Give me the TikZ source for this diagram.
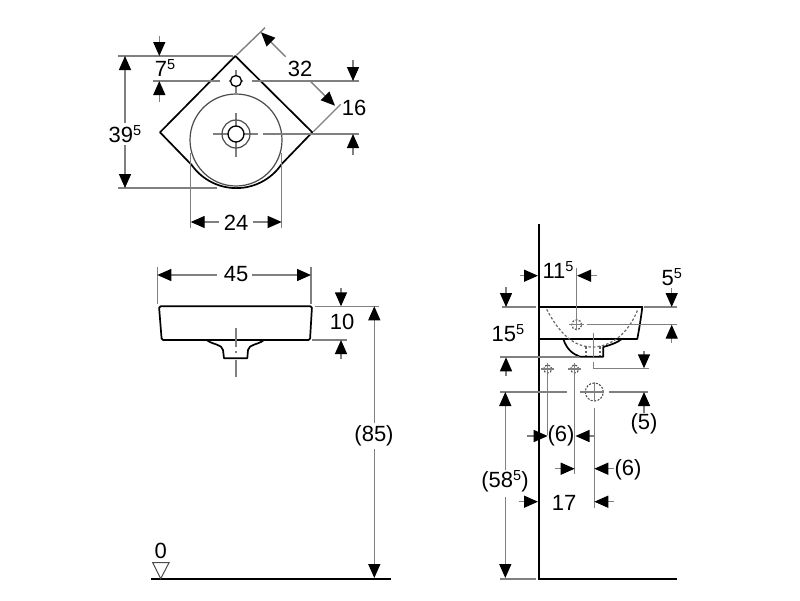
\documentclass[tikz,border=0pt]{standalone}
\usepackage{fontspec}
\setmainfont{Liberation Sans}
\usetikzlibrary{arrows.meta}

\newcommand{\up}[1]{\raisebox{.3em}{\fontsize{14.5}{14.5}\selectfont #1}}

\tikzset{
	outline/.style={black, line width=1.7pt, line join=round},
	thin outline/.style={black!70, line width=1.2pt},
	wall/.style={black, line width=2.3pt},
	helper/.style={black!50, line width=1.4pt},
	hidden/.style={black!60, line width=1.2pt, dash pattern=on 2.5pt off 2pt},
	dim/.style={black!50, line width=1.4pt, -{Triangle[length=14pt,width=12pt,color=black]}},
	hole/.style={circle, draw=black, line width=1.3pt, inner sep=0pt},
	hidden hole/.style={circle, draw=black!70, line width=1.1pt, dash pattern=on 2pt off 1.5pt, inner sep=0pt},
	label/.style={font=\fontsize{22}{24}\selectfont, inner sep=0pt},
}

\begin{document}
\begin{tikzpicture}[x=1pt, y=-1pt]
	\useasboundingbox[fill=white] (0,0) rectangle (800,600);

	% top view
	\draw[helper] (236,113) -- (236,157);
	\draw[helper] (213,134) -- (258,134);
	\draw[helper] (236,70) -- (236,93);
	\draw[helper] (229,81) -- (243,81);
	\node[hole, thin outline, minimum size=92pt] (bowl) at (236,140) {};
	\node[hole, thin outline, minimum size=28pt] (drainrim) at (236,134) {};
	\node[hole, minimum size=16pt, fill=white] (drain) at (236,134) {};
	\node[hole, minimum size=11pt, fill=white] (taphole) at (236,81) {};
	\draw[outline] (190.7,164) -- (160,132.3) -- (235.3,56) -- (312.3,132.3) -- (281.7,164)
		arc[start angle=326, end angle=214, radius=54.7pt];
	\draw[helper] (118,56) -- (233,56);
	\draw[helper] (118,188) -- (217,188);
	\draw[helper] (153,81) -- (220,81);
	\draw[helper] (252,81) -- (359,81);
	\draw[helper] (263,134) -- (359,134);
	\draw[helper] (190.7,153) -- (190.7,228);
	\draw[helper] (281.7,153) -- (281.7,228);
	\draw[helper] (236.7,55) -- (265,27.7);
	\draw[helper] (313.3,131.7) -- (340.7,104.3);

	\node[label] (depth) at (125,134) {39\up{5}};
	\draw[dim] (125,123) -- (125,56);
	\draw[dim] (125,145) -- (125,188);
	\node[label] (tapdist) at (165,68) {7\up{5}};
	\draw[dim] (159.3,36) -- (159.3,56);
	\draw[dim] (159.3,102) -- (159.3,81);
	\node[label] (edge) at (300,69) {32};
	\draw[dim] (285.7,56.7) -- (261,32.3);
	\draw[dim] (310.7,81.7) -- (335,105.7);
	\node[label] (tapdrain) at (354,108) {16};
	\draw[dim] (353,60) -- (353,81);
	\draw[dim] (353,155) -- (353,134);
	\node[label] (bowlwidth) at (236,223) {24};
	\draw[dim] (219,222) -- (190.7,222);
	\draw[dim] (253,222) -- (281.7,222);

	% front view
	\draw[outline, rounded corners=1.5pt] (159,306.3) -- (312,306.3) -- (310,340) -- (161.7,340) -- cycle;
	\draw[outline] (206.7,340) .. controls (213,345) and (222,344) .. (223,350) -- (224,358.3)
		-- (247.3,358.3) -- (248,350) .. controls (249,344) and (258,345) .. (264,340);
	\draw[helper] (236,328) -- (236,347);
	\draw[helper] (236,351) -- (236,353);
	\draw[helper] (236,360) -- (236,376.7);
	\draw[helper] (157.3,267) -- (157.3,304);
	\draw[helper] (311,267) -- (311,304);
	\draw[helper] (315,306.3) -- (379,306.3);
	\draw[helper] (312,340) -- (347,340);

	\node[label] (width) at (236,274) {45};
	\draw[dim] (217,275) -- (157.3,275);
	\draw[dim] (252,275) -- (311,275);
	\node[label] (height) at (342,322) {10};
	\draw[dim] (341,288) -- (341,306.3);
	\draw[dim] (341,359) -- (341,340);
	\node[label] (rim) at (374,436) {(85)};
	\draw[dim] (374.3,423) -- (374.3,306.3);
	\draw[dim] (374.3,449) -- (374.3,578);

	\draw[wall] (151,579) -- (391,579);
	\draw[black!70, line width=1pt] (152.7,562.7) -- (169,562.7) -- (160.7,578.7) -- cycle;
	\node[label] (zero) at (160.7,551) {0};

	% side view
	\draw[wall] (539,224) -- (539,579.3) -- (677,579.3);
	\draw[outline] (539,307) -- (642.3,307) .. controls (641,318) and (639,330) .. (637.3,339) -- (539,339);
	\draw[outline] (563.3,339) .. controls (567,350) and (573,354) .. (580,356.7) -- (603.3,356.7)
		-- (603.3,347) .. controls (610,345) and (617,343) .. (621.7,339);
	\draw[hidden] (546.7,309.3) .. controls (560,335) and (575,347) .. (592,347)
		.. controls (610,347) and (628,335) .. (638,309);
	\draw[hidden] (586,346) -- (586,356);
	\draw[hidden] (600,346) -- (600,356);

	\node[hidden hole, minimum size=10pt] (sidetap) at (576.7,324.7) {};
	\node[hidden hole, minimum size=8pt] (stopleft) at (547.7,369) {};
	\node[hidden hole, minimum size=8pt] (stopright) at (574.7,369) {};
	\node[hidden hole, minimum size=18pt] (waste) at (594.3,392) {};
	\draw[helper] (569,324.7) -- (584,324.7);
	\draw[helper] (541,369) -- (554,369);
	\draw[helper] (568,369) -- (581,369);
	\draw[helper] (547.7,363) -- (547.7,435);
	\draw[helper] (574.7,363) -- (574.7,474);
	\draw[helper] (580,392) -- (604,392);
	\draw[helper] (594.3,382) -- (594.3,400);
	\draw[helper] (594.3,408) -- (594.3,507.7);
	\draw[helper] (593.3,332.7) -- (593.3,356.7);
	\draw[helper] (593.3,362) -- (593.3,368);
	\draw[helper] (576.7,268) -- (576.7,330);
	\draw[helper] (586.7,324.7) -- (677.3,324.7);
	\draw[helper] (501.7,307) -- (536,307);
	\draw[helper] (644,307) -- (677.3,307);
	\draw[helper] (500,357) -- (579,357);
	\draw[helper] (592.7,368.3) -- (649.3,368.3);
	\draw[helper] (500,392) -- (567.3,392);
	\draw[helper] (609.3,392) -- (648.3,392);
	\draw[helper] (500,579) -- (536,579);

	\node[label] (wallhole) at (558,270) {11\up{5}};
	\draw[dim] (520,275.7) -- (538,275.7);
	\draw[dim] (596.7,275.7) -- (577,275.7);
	\node[label] (rimhole) at (671.7,277) {5\up{5}};
	\draw[dim] (671.7,288) -- (671.7,307);
	\draw[dim] (671.7,343) -- (671.7,324.7);
	\node[label] (sideheight) at (508,333) {15\up{5}};
	\draw[dim] (506,287) -- (506,307);
	\draw[dim] (506,376) -- (506,357.3);
	\node[label] (wastedrop) at (644,424) {(5)};
	\draw[dim] (644,351) -- (644,368.3);
	\draw[dim] (644,413) -- (644,392);
	\node[label] (floorwaste) at (505,481) {(58\up{5})};
	\draw[dim] (505.3,470) -- (505.3,392);
	\draw[dim] (505.3,497) -- (505.3,578);
	\node[label] (stopgap) at (561,436) {(6)};
	\draw[dim] (527,436) -- (547.7,436);
	\draw[dim] (595,436) -- (575.5,436);
	\node[label] (stopwaste) at (628,469.3) {(6)};
	\draw[dim] (555,468.7) -- (574.7,468.7);
	\draw[dim] (614,468.7) -- (594.3,468.7);
	\node[label] (wallwaste) at (564,502.7) {17};
	\draw[dim] (518.7,501.7) -- (538,501.7);
	\draw[dim] (614,501.7) -- (594.3,501.7);
\end{tikzpicture}
\end{document}
